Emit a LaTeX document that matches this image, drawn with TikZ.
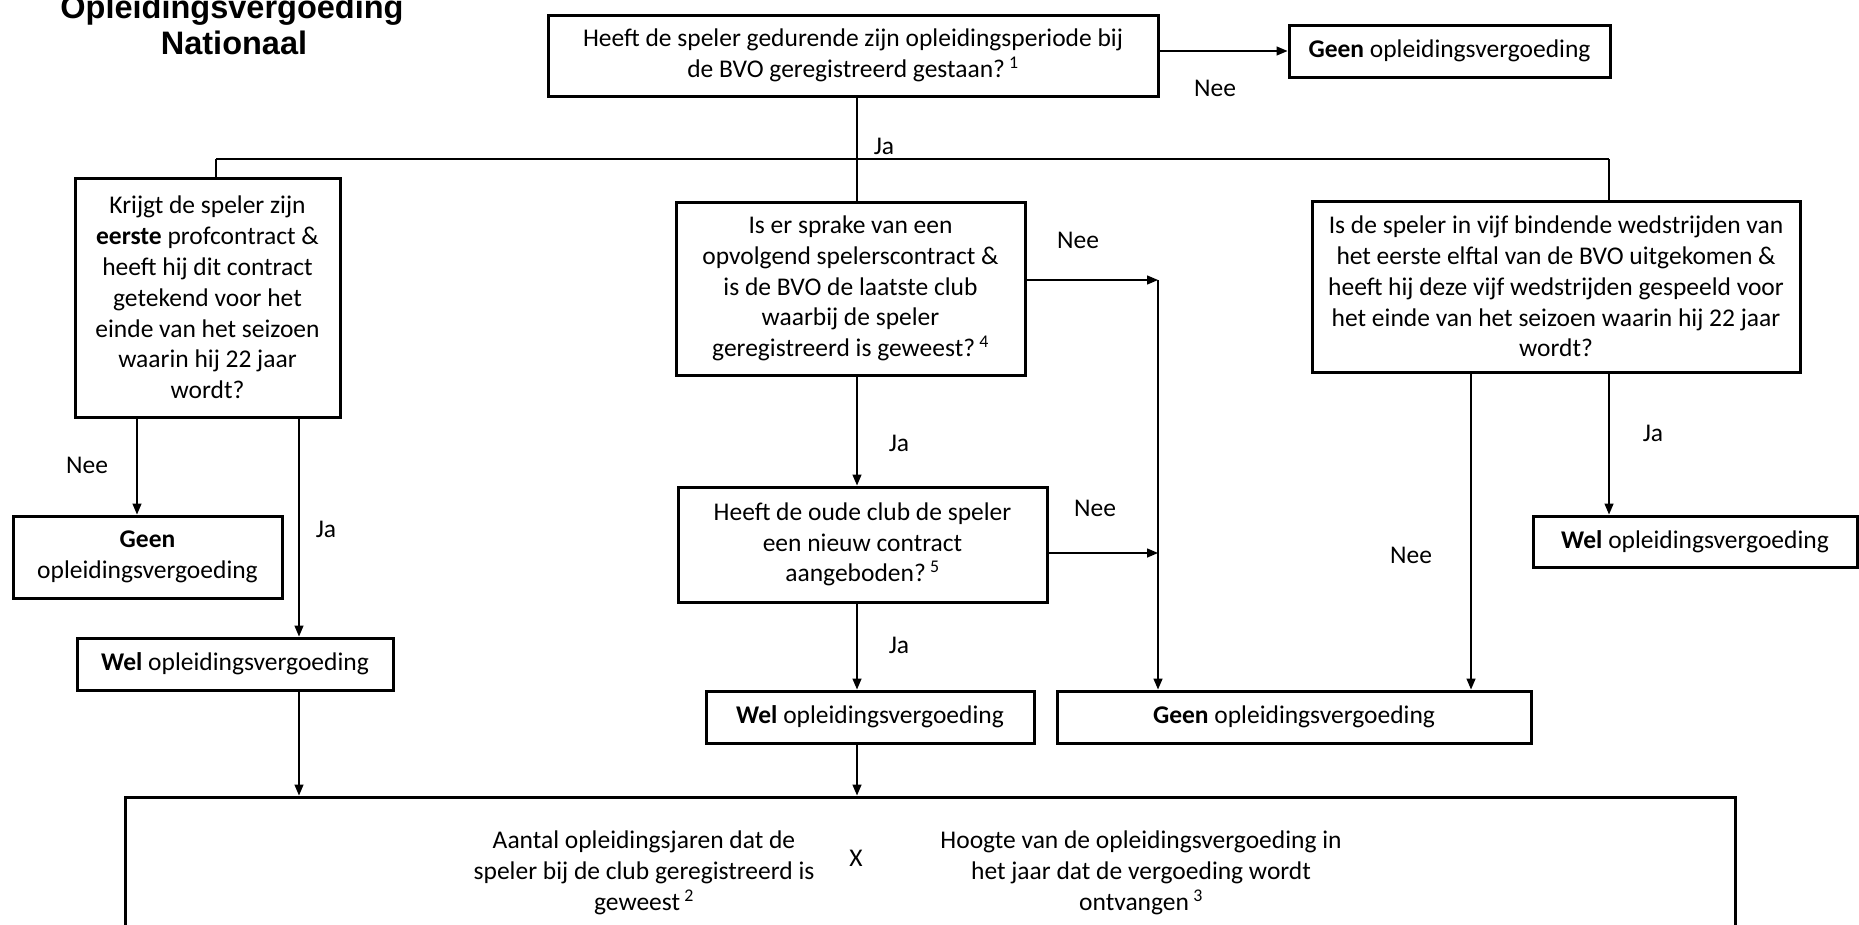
\documentclass[tikz,border=0pt]{standalone}
\usepackage{fontspec}
\setmainfont{Carlito}
\newfontfamily\titlefont{Liberation Sans}
\usetikzlibrary{arrows.meta}
\newcommand\fs{\fontsize{25.5}{30.8}\selectfont}
\begin{document}
\begin{tikzpicture}[x=1pt,y=-1pt,
  box/.style={draw, line width=3pt, inner sep=0pt, align=center, font=\fs},
  conn/.style={line width=1.4pt},
  arr/.style={conn, -{Triangle[length=11pt,width=9pt]}},
  lbl/.style={font=\fs, inner sep=0pt, align=center},
  ttl/.style={font=\titlefont\bfseries\fontsize{32.5}{38}\selectfont, anchor=base, inner sep=0pt}]
\useasboundingbox (0,0) rectangle (1859,924);

% title
\node[ttl] (t1) at (232,18) {Opleidingsvergoeding};
\node[ttl] (t2) at (234,54) {Nationaal};

% boxes
\node[box, minimum width=610pt, minimum height=81pt] (top) at (853,55.5)
  {Heeft de speler gedurende zijn opleidingsperiode bij\\de BVO geregistreerd gestaan?\,\textsuperscript{1}};
\node[box, minimum width=321pt, minimum height=52pt] (geen1) at (1449.5,51)
  {\textbf{Geen} opleidingsvergoeding};
\node[box, minimum width=265pt, minimum height=239pt] (q1) at (207.5,297.5)
  {Krijgt de speler zijn\\\textbf{eerste} profcontract \&\\heeft hij dit contract\\getekend voor het\\einde van het seizoen\\waarin hij 22 jaar\\wordt?};
\node[box, minimum width=349pt, minimum height=173pt] (q2) at (850.5,288.5)
  {Is er sprake van een\\opvolgend spelerscontract \&\\is de BVO de laatste club\\waarbij de speler\\geregistreerd is geweest?\,\textsuperscript{4}};
\node[box, minimum width=369pt, minimum height=115pt] (q3) at (862.5,544.5)
  {Heeft de oude club de speler\\een nieuw contract\\aangeboden?\,\textsuperscript{5}};
\node[box, minimum width=488pt, minimum height=171pt] (q4) at (1556,286.5)
  {Is de speler in vijf bindende wedstrijden van\\het eerste elftal van de BVO uitgekomen \&\\heeft hij deze vijf wedstrijden gespeeld voor\\het einde van het seizoen waarin hij 22 jaar\\wordt?};
\node[box, minimum width=324pt, minimum height=51pt] (welR) at (1695,541.5)
  {\textbf{Wel} opleidingsvergoeding};
\node[box, minimum width=269pt, minimum height=82pt] (geenL) at (147.5,557)
  {\textbf{Geen}\\opleidingsvergoeding};
\node[box, minimum width=316pt, minimum height=52pt] (welL) at (235,664)
  {\textbf{Wel} opleidingsvergoeding};
\node[box, minimum width=328pt, minimum height=52pt] (welC) at (870,717)
  {\textbf{Wel} opleidingsvergoeding};
\node[box, minimum width=474pt, minimum height=52pt] (geenC) at (1294,717)
  {\textbf{Geen} opleidingsvergoeding};
\node[box, minimum width=1610pt, minimum height=166pt] (bot) at (930,880) {};
\node[lbl] (b1) at (644,873)
  {Aantal opleidingsjaren dat de\\speler bij de club geregistreerd is\\geweest\,\textsuperscript{2}};
\node[lbl] (bx) at (856,858) {X};
\node[lbl] (b2) at (1141,873)
  {Hoogte van de opleidingsvergoeding in\\het jaar dat de vergoeding wordt\\ontvangen\,\textsuperscript{3}};

% helper coordinates
\coordinate (hL) at (216,159);
\coordinate (hM) at (857,159);
\coordinate (hR) at (1609,159);
\coordinate (xA) at (137,0);
\coordinate (xB) at (299,0);
\coordinate (xN) at (1471,0);
\coordinate (j1) at (1158,280);
\coordinate (j2) at (1158,553);

% connectors
\draw[arr] (top.east |- geen1.west) -- (geen1.west);
\draw[conn] (top.south -| hM) -- (hM);
\draw[conn] (hL) -- (hR);
\draw[conn] (hL) -- (hL |- q1.north);
\draw[conn] (hM) -- (hM |- q2.north);
\draw[conn] (hR) -- (hR |- q4.north);

\draw[arr] (q1.south -| xA) -- (geenL.north -| xA);
\draw[arr] (q1.south -| xB) -- (welL.north -| xB);
\draw[arr] (welL.south -| xB) -- (bot.north -| xB);

\draw[arr] (q2.south -| hM) -- (q3.north -| hM);
\draw[arr] (q3.south -| hM) -- (welC.north -| hM);
\draw[arr] (welC.south -| hM) -- (bot.north -| hM);

\draw[arr] (q2.east |- j1) -- (j1);
\draw[arr] (q3.east |- j2) -- (j2);
\draw[arr] (j1) -- (geenC.north -| j1);

\draw[arr] (q4.south -| xN) -- (geenC.north -| xN);
\draw[arr] (q4.south -| hR) -- (welR.north -| hR);

% labels
\node[lbl] (l1) at (1215,88) {Nee};
\node[lbl] (l2) at (884,146) {Ja};
\node[lbl] (l3) at (1078,240) {Nee};
\node[lbl] (l4) at (899,443) {Ja};
\node[lbl] (l5) at (1095,508) {Nee};
\node[lbl] (l6) at (899,645) {Ja};
\node[lbl] (l7) at (87,465) {Nee};
\node[lbl] (l8) at (326,529) {Ja};
\node[lbl] (l9) at (1411,555) {Nee};
\node[lbl] (l10) at (1653,433) {Ja};
\end{tikzpicture}
\end{document}
